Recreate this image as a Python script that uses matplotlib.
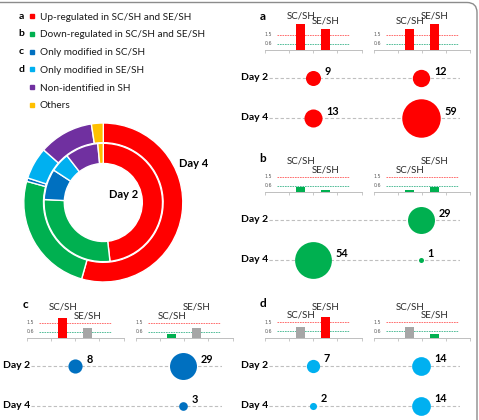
import numpy as np
import matplotlib.pyplot as plt
from matplotlib.lines import Line2D
from matplotlib.patches import FancyBboxPatch

plt.rcParams['font.family'] = ['Lato', 'DejaVu Sans']

W, H = 479, 420

# --- data --------------------------------------------------------------
groups = ['Up-regulated in SC/SH and SE/SH', 'Down-regulated in SC/SH and SE/SH',
          'Only modified in SC/SH', 'Only modified in SE/SH',
          'Non-identified in SH', 'Others']
group_letters = ['a', 'b', 'c', 'd']
group_colors = ['#FF0000', '#00B050', '#0070C0', '#00B0F0', '#7030A0', '#FFC000']
day2_share = [48.2, 27.6, 8.4, 5.3, 9.0, 1.5]
day4_share = [54.4, 24.9, 0.7, 6.5, 11.1, 2.4]

ratio_labels = ['SC/SH', 'SE/SH']
day_labels = ['Day 2', 'Day 4']
cutoffs = [1.5, 0.6]

# fold change: [left group (SC/SH, SE/SH), right group (SC/SH, SE/SH)]
fold_a = [[2.5, 2.0], [2.0, 2.5]]
fold_b = [[0.45, 0.23], [0.17, 0.45]]
fold_c = [[1.9, 1.0], [0.35, 1.0]]
fold_d = [[1.0, 2.0], [1.0, 0.3]]

# protein counts: rows Day 2 / Day 4, columns left / right group (0 = none)
count_a = [[9, 12], [13, 59]]
count_b = [[0, 29], [54, 1]]
count_c = [[8, 29], [0, 3]]
count_d = [[7, 14], [2, 14]]


def bar_color(v):
    if v > cutoffs[0]:
        return '#FF0000'
    if v < cutoffs[1]:
        return '#00B050'
    return '#A6A6A6'


def px(x, y, w, h):
    # pixel box (top-left origin) -> figure fraction
    return [x / W, 1 - (y + h) / H, w / W, h / H]


fig = plt.figure(figsize=(W / 100, H / 100), dpi=100)

bg = fig.add_axes([0, 0, 1, 1])
bg.set_xlim(0, W)
bg.set_ylim(H, 0)
bg.axis('off')
bg.add_patch(FancyBboxPatch((-30, 2.5), 507, 700, boxstyle='round,pad=0,rounding_size=10',
                            fc='none', ec='#8C8C8C', lw=1.0))

# --- legend ------------------------------------------------------------
handles = [Line2D([], [], marker='s', ls='none', color=c, markersize=3) for c in group_colors]
leg = bg.legend(handles, groups, loc='upper left', bbox_to_anchor=(29, 12.5),
                bbox_transform=bg.transData, frameon=False, fontsize=7.2,
                handlelength=0.6, handletextpad=0.5, labelspacing=0.88,
                borderpad=0, borderaxespad=0)
for t in leg.get_texts():
    t.set_color('#1A1A1A')

# --- donut -------------------------------------------------------------
dn = fig.add_axes(px(103.3 - 80, 202.5 - 80, 160, 160))
dn.pie(day4_share, radius=79.5 / 80, colors=group_colors, startangle=90, counterclock=False,
       wedgeprops=dict(width=19.7 / 80, edgecolor='white', linewidth=1.0))
dn.pie(day2_share, radius=59.2 / 80, colors=group_colors, startangle=90, counterclock=False,
       wedgeprops=dict(width=20.2 / 80, edgecolor='white', linewidth=1.0))
dn.set_xlim(-1, 1)
dn.set_ylim(-1, 1)
bg.text(123.3, 194, 'Day 2', fontsize=8, fontweight='bold', ha='center', va='center')
bg.text(193.3, 163.3, 'Day 4', fontsize=8, fontweight='bold', ha='center', va='center')

# --- panels a-d --------------------------------------------------------
panel_origin = {'a': (238, 16), 'b': (238, 158), 'c': (0, 304), 'd': (238, 303.5)}
panels = [('a', fold_a, count_a, '#FF0000'),
          ('b', fold_b, count_b, '#00B050'),
          ('c', fold_c, count_c, '#0070C0'),
          ('d', fold_d, count_d, '#00B0F0')]

for letter, folds, counts, color in panels:
    x0, y0 = panel_origin[letter]
    bg.text(x0 + 25, y0, letter, fontsize=8.5, fontweight='bold', ha='center', va='center')
    base = y0 + 34

    # small fold-change bar charts
    for k, xs in enumerate([26.5, 135.5]):
        ax = fig.add_axes(px(x0 + xs, base - 30, 97, 30))
        vals = folds[k]
        ax.bar([1, 2], vals, width=0.37, color=[bar_color(v) for v in vals], zorder=2)
        ax.hlines(cutoffs[0], 0, 3, color='#FF5A5A', lw=0.6, ls=(0, (2, 1)), zorder=1)
        ax.hlines(cutoffs[1], 0, 3, color='#3DB48C', lw=0.6, ls=(0, (2, 1)), zorder=1)
        for c in cutoffs:
            ax.text(-0.2, c, str(c), fontsize=3.4, color='#595959', ha='right', va='center',
                    family='DejaVu Sans')
        ax.set_xlim(-0.5, 3.5)
        ax.set_ylim(0, 30 / 10.3)
        ax.patch.set_visible(False)
        for sp in ['top', 'left', 'right']:
            ax.spines[sp].set_visible(False)
        ax.spines['bottom'].set_color('#BFBFBF')
        ax.spines['bottom'].set_linewidth(0.7)
        ax.set_xticks([-0.5, 0.5, 1.5, 2.5, 3.5])
        ax.set_xticklabels([])
        ax.set_yticks([])
        ax.tick_params(axis='x', length=2, color='#BFBFBF', width=0.6)
        hi = int(np.argmax(vals))
        for j, (v, lab) in enumerate(zip(vals, ratio_labels)):
            level = 3.0 if j == hi else 2.15
            ax.text(j + 1, max(level, v + 0.8), lab, fontsize=7, color='#262626',
                    ha='center', va='center')

    # bubble rows
    bx = fig.add_axes(px(x0 + 31, y0 + 42, 191, 80))
    bx.set_xlim(-44 / 108, 147 / 108)
    bx.set_ylim(1.5, -0.5)
    bx.axis('off')
    for i, row in enumerate(counts):
        bx.axhline(i, color='#BFBFBF', lw=0.8, ls=(0, (3, 2)), zorder=1)
        bx.annotate(day_labels[i], (0, i), xycoords=('axes fraction', 'data'),
                    xytext=(-28 * 0.72, 0), textcoords='offset points',
                    fontsize=7.5, fontweight='bold', ha='left', va='center')
        for j, n in enumerate(row):
            if n == 0:
                continue
            s = 13 * n
            bx.scatter(j, i, s=s, color=color, linewidths=0, zorder=3, clip_on=False)
            r = np.sqrt(s) / 2
            bx.annotate(str(n), (j, i), xytext=(r + 3, 5), textcoords='offset points',
                        fontsize=7.8, fontweight='bold', ha='left', va='center')

# letters next to the first four legend entries
fig.canvas.draw()
inv = bg.transData.inverted()
for t, letter in zip(leg.get_texts(), group_letters):
    bb = t.get_window_extent()
    yc = inv.transform((0, (bb.y0 + bb.y1) / 2))[1]
    bg.text(21.5, yc - 0.8, letter, fontsize=7.5, fontweight='bold', ha='center', va='center')

fig.savefig('out.png', dpi=100)
